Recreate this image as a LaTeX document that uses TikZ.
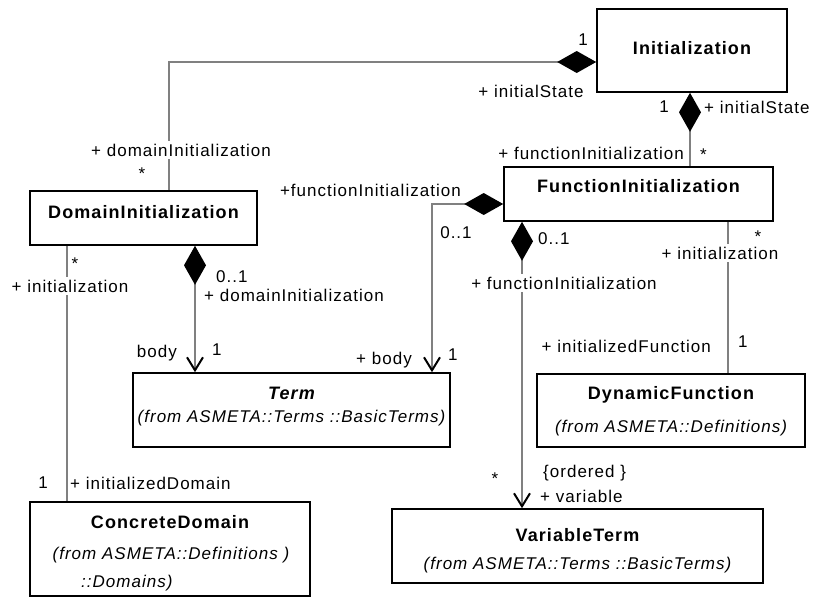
\documentclass[tikz,border=0pt]{standalone}
\usepackage{fontspec}
\setmainfont{Liberation Sans}[LetterSpace=6]
\usetikzlibrary{arrows.meta}
\definecolor{linkgray}{RGB}{128,128,128}

\begin{document}
\begin{tikzpicture}[x=1pt, y=-1pt,
  every node/.style={font=\fontsize{17}{20}\selectfont, inner sep=1pt},
  classbox/.style={draw=black, line width=1.6pt, fill=white, inner sep=0pt},
  ctitle/.style={font=\fontsize{18}{21}\selectfont\bfseries},
  cfrom/.style={font=\fontsize{17}{20}\selectfont\itshape},
  link/.style={draw=linkgray, line width=2.2pt},
  comp/.style={link, arrows={{Diamond[black, length=39pt, width=22pt]}-}},
  compnav/.style={link, arrows={{Diamond[black, length=39pt, width=22pt]}-{Straight Barb[black, length=13pt, width=16pt, line width=2pt]}}},
  role/.style={},
  cutrole/.style={fill=white, inner sep=3pt}
]
\useasboundingbox (0,0) rectangle (814,597);

% classes
\node[classbox, minimum width=190pt, minimum height=83pt] (init) at (692,50.5) {};
\node[classbox, minimum width=269pt, minimum height=54pt] (finit) at (638.5,194) {};
\node[classbox, minimum width=227pt, minimum height=54pt] (dinit) at (143.5,218) {};
\node[classbox, minimum width=317pt, minimum height=74pt] (term) at (291.5,410) {};
\node[classbox, minimum width=268pt, minimum height=73pt] (dynf) at (671,410.5) {};
\node[classbox, minimum width=371pt, minimum height=74pt] (vterm) at (577.5,546) {};
\node[classbox, minimum width=280pt, minimum height=94pt] (cdom) at (170,549) {};

\node[ctitle] (initT) at (692,48) {Initialization};
\node[ctitle] (finitT) at (638.5,186) {FunctionInitialization};
\node[ctitle] (dinitT) at (143.5,212) {DomainInitialization};
\node[ctitle, font=\fontsize{18}{21}\selectfont\bfseries\itshape] (termT) at (291.5,393) {Term};
\node[cfrom] (termF) at (291.5,418) {(from ASMETA::Terms ::BasicTerms)};
\node[ctitle] (dynfT) at (671,395) {DynamicFunction};
\node[cfrom] (dynfF) at (671,428) {(from ASMETA::Definitions)};
\node[ctitle] (vtermT) at (577.5,535) {VariableTerm};
\node[cfrom] (vtermF) at (577.5,565) {(from ASMETA::Terms ::BasicTerms)};
\node[ctitle] (cdomT) at (170,522) {ConcreteDomain};
\node[cfrom] (cdomF) at (171,555) {(from ASMETA::Definitions )};
\node[cfrom, anchor=west] (cdomG) at (80,583) {::Domains)};

% bend points and line positions
\coordinate (bA) at (169,62);
\coordinate (xB) at (690,130);
\coordinate (bC) at (432,204);
\coordinate (xD) at (522,300);
\coordinate (xE) at (728,300);
\coordinate (xF) at (195,300);
\coordinate (xG) at (67,300);

% associations
\draw[comp] (init.west |- bA) -- (bA) -- (dinit.north -| bA);
\draw[comp] (init.south -| xB) -- (finit.north -| xB);
\draw[compnav] (finit.west |- bC) -- (bC) -- (term.north -| bC);
\draw[compnav] (finit.south -| xD) -- (vterm.north -| xD);
\draw[link] (finit.south -| xE) -- (dynf.north -| xE);
\draw[compnav] (dinit.south -| xF) -- (term.north -| xF);
\draw[link] (dinit.south -| xG) -- (cdom.north -| xG);

% role names and multiplicities
\node[role] (m1) at (583,40) {1};
\node[role] (r1) at (531,91) {+ initialState};
\node[cutrole] (r2) at (181,150) {+ domainInitialization};
\node[role] (m2) at (142,174) {*};

\node[role, anchor=east] (m3) at (670,107) {1};
\node[role, anchor=west] (r3) at (703,107) {+ initialState};
\node[role, anchor=east] (r4) at (685,153) {+ functionInitialization};
\node[role, anchor=west] (m4) at (699,155) {*};

\node[role, anchor=east] (r5) at (462,190) {+functionInitialization};
\node[role] (m5) at (456,233) {0..1};
\node[role, anchor=east] (r6) at (413,360) {+ body};
\node[role, anchor=west] (m6) at (447,355) {1};

\node[role, anchor=west] (m7) at (537,239) {0..1};
\node[cutrole] (r7) at (564,283) {+ functionInitialization};
\node[role] (m8) at (495,479) {*};
\node[role, anchor=west] (r8a) at (542,473) {\{ordered \}};
\node[role, anchor=west] (r8) at (539,496) {+ variable};

\node[role] (m9) at (758,237) {*};
\node[cutrole] (r9) at (720,253) {+ initialization};
\node[role, anchor=east] (r10) at (712,346) {+ initializedFunction};
\node[role, anchor=west] (m10) at (737,342) {1};

\node[role, anchor=west] (m11) at (215,277) {0..1};
\node[role, anchor=west] (r11) at (203,295) {+ domainInitialization};
\node[role, anchor=east] (r12) at (178,353) {body};
\node[role, anchor=west] (m12) at (211,350) {1};

\node[role] (m13) at (75,264) {*};
\node[cutrole] (r13) at (70,286) {+ initialization};
\node[role] (m14) at (43,483) {1};
\node[role, anchor=west] (r14) at (69,483) {+ initializedDomain};
\end{tikzpicture}
\end{document}
